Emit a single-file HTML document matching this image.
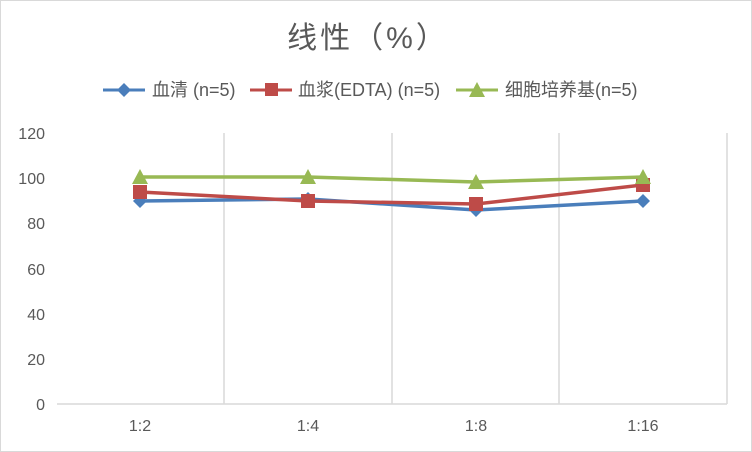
<!DOCTYPE html>
<html><head><meta charset="utf-8"><style>
html,body{margin:0;padding:0;background:#fff;}
svg{display:block;}
text{font-family:"Liberation Sans","Noto Sans CJK SC",sans-serif;fill:#595959;}
</style></head><body>
<svg width="752" height="452" viewBox="0 0 752 452" xmlns="http://www.w3.org/2000/svg">
<rect x="0.5" y="0.5" width="751" height="451" fill="#fff" stroke="#d9d9d9"/>
<text x="368" y="48" font-size="30" text-anchor="middle" style="letter-spacing:3px">线性（%）</text>
<g font-size="18">
<line x1="103" y1="90" x2="145" y2="90" stroke="#4a7ebb" stroke-width="3"/>
<path d="M124 83 L131 90 L124 97 L117 90Z" fill="#4a7ebb"/>
<text x="152" y="96">血清 (n=5)</text>
<line x1="250" y1="90" x2="292" y2="90" stroke="#be4b48" stroke-width="3"/>
<rect x="265" y="83" width="13" height="13" fill="#be4b48"/>
<text x="298" y="96">血浆(EDTA) (n=5)</text>
<line x1="456" y1="90" x2="498" y2="90" stroke="#98b954" stroke-width="3"/>
<path d="M477 82 L485 97 L469 97Z" fill="#98b954"/>
<text x="505" y="96">细胞培养基(n=5)</text>
</g>
<g stroke="#d9d9d9" stroke-width="1.5">
<line x1="224" y1="133" x2="224" y2="404"/>
<line x1="392" y1="133" x2="392" y2="404"/>
<line x1="559" y1="133" x2="559" y2="404"/>
<line x1="727" y1="133" x2="727" y2="404"/>
<line x1="57" y1="404" x2="727" y2="404"/>
</g>
<g font-size="16" text-anchor="end">
<text x="45" y="410">0</text><text x="45" y="365">20</text><text x="45" y="320">40</text>
<text x="45" y="275">60</text><text x="45" y="229">80</text><text x="45" y="184">100</text><text x="45" y="139">120</text>
</g>
<g font-size="16" text-anchor="middle">
<text x="140" y="431">1:2</text><text x="308" y="431">1:4</text><text x="476" y="431">1:8</text><text x="643" y="431">1:16</text>
</g>
<polyline points="140,201 308,199 476,210 643,201" fill="none" stroke="#4a7ebb" stroke-width="3.5"/>
<g fill="#4a7ebb">
<path d="M140 194 L147 201 L140 208 L133 201Z"/><path d="M308 192 L315 199 L308 206 L301 199Z"/>
<path d="M476 203 L483 210 L476 217 L469 210Z"/><path d="M643 194 L650 201 L643 208 L636 201Z"/>
</g>
<polyline points="140,192 308,201 476,204 643,185" fill="none" stroke="#be4b48" stroke-width="3.5"/>
<g fill="#be4b48">
<rect x="133" y="185" width="14" height="14"/><rect x="301" y="194" width="14" height="14"/>
<rect x="469" y="197" width="14" height="14"/><rect x="636" y="178" width="14" height="14"/>
</g>
<polyline points="140,177 308,177 476,182 643,177" fill="none" stroke="#98b954" stroke-width="3.5"/>
<g fill="#98b954">
<path d="M140 169 L148 184 L132 184Z"/><path d="M308 169 L316 184 L300 184Z"/>
<path d="M476 174 L484 189 L468 189Z"/><path d="M643 169 L651 184 L635 184Z"/>
</g>
</svg>
</body></html>
